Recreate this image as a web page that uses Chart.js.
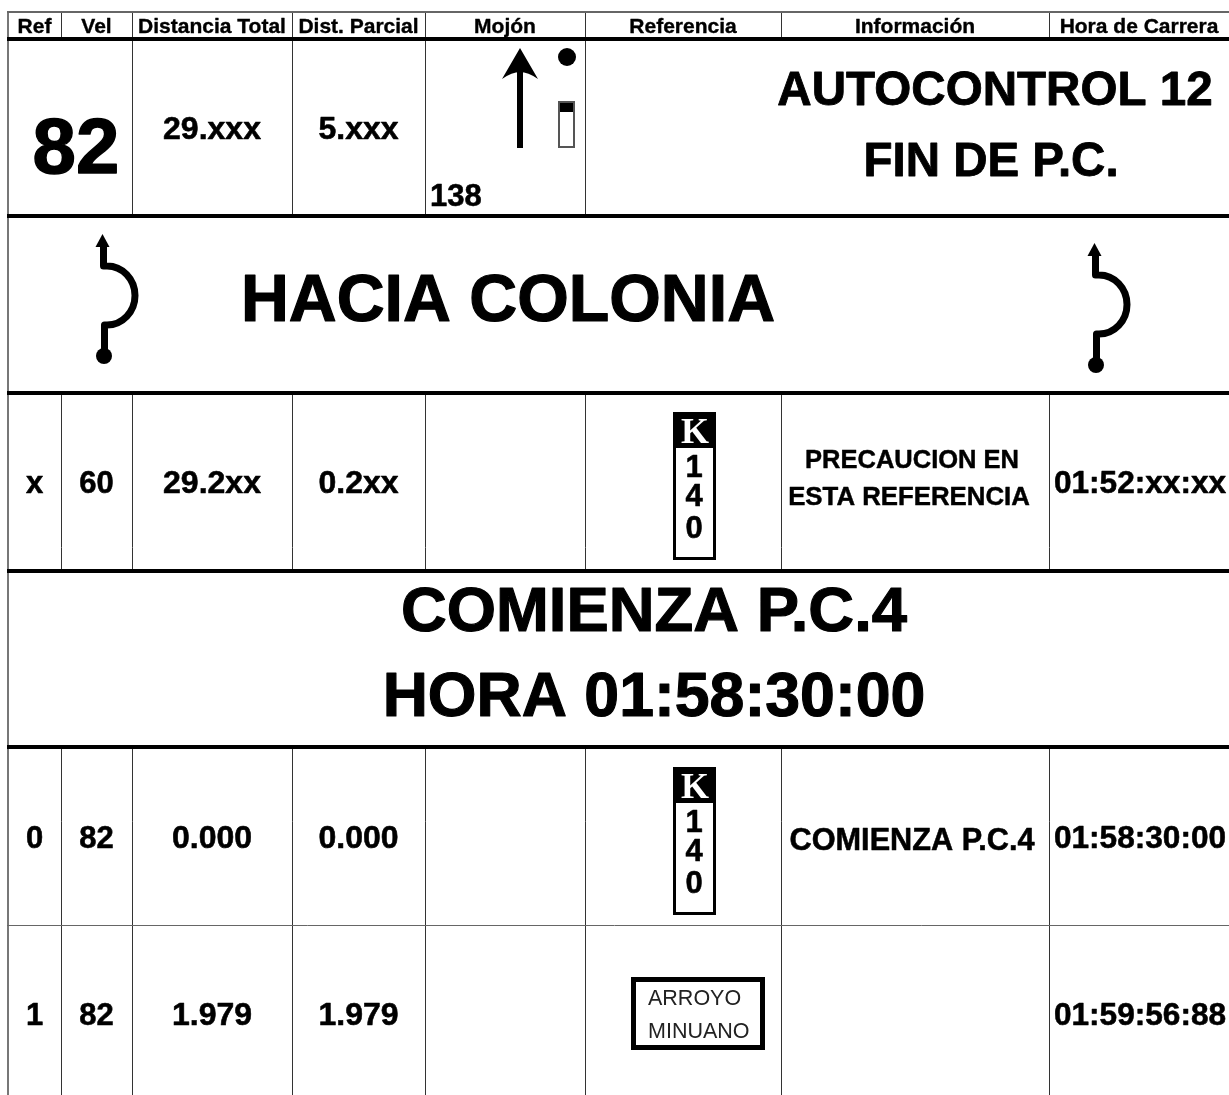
<!DOCTYPE html>
<html>
<head>
<meta charset="utf-8">
<title>Hoja de ruta</title>
<style>
html, body { margin: 0; padding: 0; background: #fff; overflow: hidden; }
canvas { display: block; }
</style>
<script src="https://cdn.jsdelivr.net/npm/chart.js@4"></script>
</head>
<body>
<canvas id="roadbook" width="1229" height="1095"></canvas>
<script>
const columnEdges = [8, 61, 132, 292, 425, 585, 781, 1049, 1229];
const rowEdges = [12, 39, 216, 393, 571, 747, 925];
const heavyRows = [39, 216, 393, 571, 747];

const headers = ['Ref', 'Vel', 'Distancia Total', 'Dist. Parcial', 'Mojón', 'Referencia', 'Información', 'Hora de Carrera'];
const refs = ['x', '0', '1'];
const speeds = ['60', '82', '82'];
const totals = ['29.2xx', '0.000', '1.979'];
const partials = ['0.2xx', '0.000', '1.979'];
const times = ['01:52:xx:xx', '01:58:30:00', '01:59:56:88'];
const kilometerDigits = ['1', '4', '0'];
const bridgeName = ['ARROYO', 'MINUANO'];

const FONT = '"Liberation Sans", Arial, sans-serif';

function colCenter(i) {
    return (columnEdges[i] + columnEdges[i + 1]) / 2;
}

// every piece of text is a point of the scatter set, the plugin below prints it
const cells = [];
function cell(text, x, y, size, extra) {
    cells.push(Object.assign({ x, y, text, size, weight: 'bold', align: 'center', color: '#000', heavy: true }, extra));
}

headers.forEach((h, i) => cell(h, colCenter(i), 25.5, 21));

cell('82', 76, 145, 78);
cell('29.xxx', colCenter(2), 128, 32);
cell('5.xxx', colCenter(3), 128, 32);
cell('138', 430, 195, 31, { align: 'left' });
cell('AUTOCONTROL 12', 995, 87.5, 47.6);
cell('FIN DE P.C.', 991, 158.5, 47.5);
cell('HACIA COLONIA', 508, 297, 66.3);
cell('COMIENZA P.C.4', 654, 608.5, 63.4);
cell('HORA 01:58:30:00', 654, 694, 62.6);

const dataRowY = [482, 837, 1014];
refs.forEach((v, i) => {
    cell(v, colCenter(0), dataRowY[i], 31);
    cell(speeds[i], colCenter(1), dataRowY[i], 31);
    cell(totals[i], colCenter(2), dataRowY[i], 32);
    cell(partials[i], colCenter(3), dataRowY[i], 32);
    cell(times[i], 1140, dataRowY[i], 31.6);
});
cell('PRECAUCION EN', 912, 458.5, 25.5);
cell('ESTA REFERENCIA', 909, 495.5, 25.8);
cell('COMIENZA P.C.4', 912, 839, 30.7);

// two plates, one per row
[0, 355].forEach(dy => {
    kilometerDigits.forEach((d, i) => {
        cell(d, 694, [466, 495, 527][i] + dy, 31);
    });
    cell('K', 695, 430 + dy, 36, { color: '#fff', font: '"Liberation Serif", serif', heavy: false });
});
bridgeName.forEach((t, i) => {
    cell(t, 648, [997, 1030][i], 21.5, { weight: 'normal', align: 'left', color: '#222', heavy: false });
});

// cells that span several columns, grid lines are painted out inside them
const mergedCells = [
    [8, 132, 39, 216],
    [585, 1229, 39, 216],
    [8, 1229, 216, 393],
    [8, 1229, 571, 747]
];

function drawRouteSign(ctx, x, y) {
    ctx.save();
    ctx.translate(x, y);
    ctx.strokeStyle = '#000';
    ctx.fillStyle = '#000';
    ctx.lineWidth = 7;
    ctx.lineCap = 'butt';
    ctx.lineJoin = 'round';
    ctx.beginPath();
    ctx.moveTo(1.5, 10);
    ctx.lineTo(1.5, 31);
    ctx.lineTo(5, 31);
    ctx.ellipse(5, 60.5, 28, 29.5, 0, -Math.PI / 2, Math.PI / 2);
    ctx.lineTo(2.5, 90);
    ctx.lineTo(2.5, 120);
    ctx.stroke();
    ctx.beginPath();
    ctx.moveTo(0.5, -1);
    ctx.lineTo(7.5, 12);
    ctx.lineTo(-6.5, 12);
    ctx.closePath();
    ctx.fill();
    ctx.beginPath();
    ctx.arc(2, 121, 8, 0, Math.PI * 2);
    ctx.fill();
    ctx.restore();
}

function drawPlate(ctx, y) {
    ctx.fillStyle = '#000';
    ctx.fillRect(673, y, 43, 36);
    ctx.strokeStyle = '#000';
    ctx.lineWidth = 3;
    ctx.strokeRect(674.5, y + 1.5, 40, 145);
}

function drawMojon(ctx) {
    ctx.fillStyle = '#000';
    ctx.fillRect(517, 70, 6, 78);
    ctx.beginPath();
    ctx.moveTo(520, 48);
    ctx.lineTo(538, 79);
    ctx.quadraticCurveTo(528, 72, 520, 72);
    ctx.quadraticCurveTo(512, 72, 502, 79);
    ctx.closePath();
    ctx.fill();
    ctx.beginPath();
    ctx.arc(567, 57, 9, 0, Math.PI * 2);
    ctx.fill();
    ctx.fillRect(558, 101, 17, 11);
    ctx.strokeStyle = '#555';
    ctx.lineWidth = 2;
    ctx.strokeRect(559, 102, 15, 45);
}

const tablePlugin = {
    id: 'tablePlugin',
    beforeDatasetsDraw(chart) {
        const { ctx, scales: { x, y } } = chart;
        ctx.save();
        ctx.fillStyle = '#fff';
        // outside of the table frame
        ctx.fillRect(0, 0, x.getPixelForValue(7), 1095);
        ctx.fillRect(0, 0, 1229, y.getPixelForValue(11));
        mergedCells.forEach(m => {
            const left = x.getPixelForValue(m[0]) + 1;
            const top = y.getPixelForValue(m[2]) + 2;
            ctx.fillRect(left, top, x.getPixelForValue(m[1]) - left, y.getPixelForValue(m[3]) - 2 - top);
        });
        ctx.restore();
    },
    afterDatasetsDraw(chart) {
        const { ctx, scales: { x, y } } = chart;
        ctx.save();
        drawMojon(ctx);
        drawRouteSign(ctx, x.getPixelForValue(102), y.getPixelForValue(235));
        drawRouteSign(ctx, x.getPixelForValue(1094), y.getPixelForValue(244));
        drawPlate(ctx, y.getPixelForValue(412));
        drawPlate(ctx, y.getPixelForValue(767));
        ctx.strokeStyle = '#000';
        ctx.lineWidth = 5;
        ctx.strokeRect(633.5, 979.5, 129, 68);

        ctx.textBaseline = 'alphabetic';
        ctx.lineJoin = 'round';
        chart.data.datasets[0].data.forEach(c => {
            ctx.font = `${c.weight} ${c.size}px ${c.font || FONT}`;
            ctx.textAlign = c.align;
            ctx.fillStyle = c.color;
            const px = x.getPixelForValue(c.x);
            const py = y.getPixelForValue(c.y) + c.size * 0.358;
            ctx.fillText(c.text, px, py);
            if (c.heavy) {
                // the reference bold is a little fatter than Liberation
                ctx.strokeStyle = c.color;
                ctx.lineWidth = c.size * 0.018;
                ctx.strokeText(c.text, px, py);
            }
        });
        ctx.restore();
    }
};

new Chart(document.getElementById('roadbook'), {
    type: 'scatter',
    data: {
        datasets: [{ label: 'Hoja de ruta', data: cells, pointRadius: 0, pointHoverRadius: 0 }]
    },
    options: {
        responsive: false,
        animation: false,
        layout: { padding: 0 },
        plugins: { legend: { display: false }, tooltip: { enabled: false } },
        events: [],
        scales: {
            x: {
                type: 'linear',
                min: 0,
                max: 1229,
                afterBuildTicks: s => { s.ticks = columnEdges.slice(0, -1).map(v => ({ value: v })); },
                ticks: { display: false },
                border: { display: false },
                grid: {
                    drawTicks: false,
                    color: c => c.tick && c.tick.value === 8 ? '#777' : '#333',
                    lineWidth: c => c.tick && c.tick.value === 8 ? 2 : 1
                }
            },
            y: {
                type: 'linear',
                reverse: true,
                min: 0,
                max: 1095,
                afterBuildTicks: s => { s.ticks = rowEdges.map(v => ({ value: v })); },
                ticks: { display: false },
                border: { display: false },
                grid: {
                    drawTicks: false,
                    color: c => c.tick && heavyRows.includes(c.tick.value) ? '#000' : '#666',
                    lineWidth: c => {
                        if (!c.tick) return 1;
                        if (heavyRows.includes(c.tick.value)) return 4;
                        return c.tick.value === 12 ? 2 : 1;
                    }
                }
            }
        }
    },
    plugins: [tablePlugin]
});
</script>
</body>
</html>
